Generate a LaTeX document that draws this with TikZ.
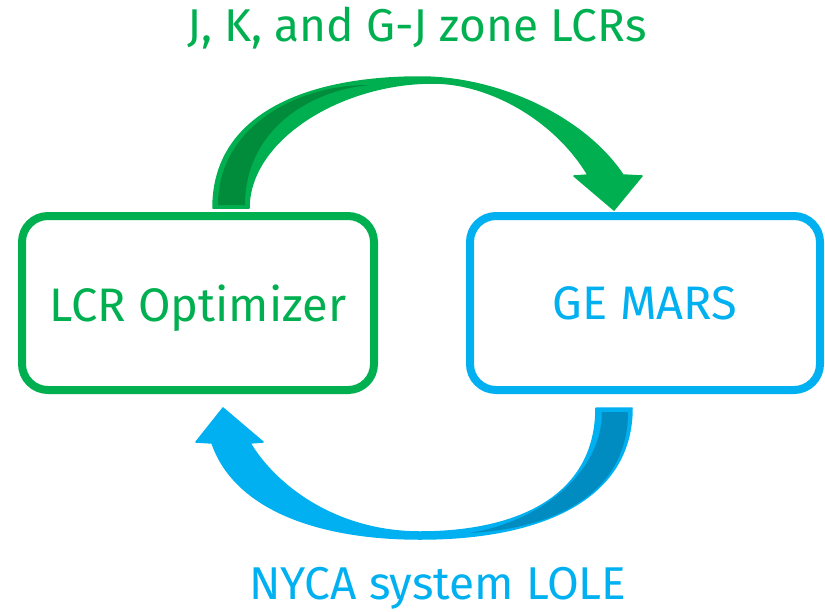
\documentclass[tikz,border=0pt]{standalone}
\usepackage{fontspec}
\setmainfont{Fira Sans}
\usetikzlibrary{positioning}
\definecolor{lcrGreen}{RGB}{0,176,80}
\definecolor{lcrGreenDark}{RGB}{0,140,58}
\definecolor{marsBlue}{RGB}{0,176,240}
\definecolor{marsBlueDark}{RGB}{0,140,192}

\begin{document}
\begin{tikzpicture}[x=1pt, y=-1pt,
    box/.style={rounded corners=26pt, line width=8pt, fill=white, minimum width=352pt, minimum height=174pt,
    align=center, text depth=0pt, font=\fontsize{47}{56}\selectfont},
    band/.style={line width=1.5pt, line join=round},
    lbl/.style={anchor=base, font=\fontsize{46}{56}\selectfont}
  ]
  \useasboundingbox (0,0) rectangle (825,611);
  \node[box, draw=lcrGreen, text=lcrGreen] (lcr) at (198,303) {LCR Optimizer};
  \node[box, draw=marsBlue, text=marsBlue, minimum width=350pt, right=88pt of lcr] (mars) {GE MARS};

  % top block arrow, optimizer to MARS
  \filldraw[band, fill=lcrGreen, draw=lcrGreen]
    (213,208) .. controls (213,115) and (305,77) .. (420,77)
    .. controls (500,77) and (585,118) .. (623,175)
    -- (642,176) -- (614,210) -- (574,176) -- (588,175)
    .. controls (555,120) and (490,83) .. (433,83)
    .. controls (340,83) and (249,140) .. (249,208) -- cycle;
  \fill[lcrGreenDark] (218,205) .. controls (218,125) and (300,84) .. (370,85)
    .. controls (310,90) and (245,130) .. (245,205) -- cycle;

  % bottom block arrow, MARS back to optimizer
  \filldraw[band, fill=marsBlue, draw=marsBlue]
    (632,408) .. controls (632,500) and (540,539) .. (420,539)
    .. controls (320,539) and (235,510) .. (212,443)
    -- (196,442) -- (223,408) -- (263,442) -- (250,443)
    .. controls (275,485) and (335,532) .. (420,532)
    .. controls (520,532) and (596,495) .. (596,408) -- cycle;
  \fill[marsBlueDark] (628,412) .. controls (628,490) and (560,528) .. (470,533)
    .. controls (545,520) and (602,470) .. (602,412) -- cycle;

  \node[lbl, text=lcrGreen] (zones) at (417,41) {J, K, and G-J zone LCRs};
  \node[lbl, text=marsBlue] (lole) at (438,599) {NYCA system LOLE};
\end{tikzpicture}
\end{document}
